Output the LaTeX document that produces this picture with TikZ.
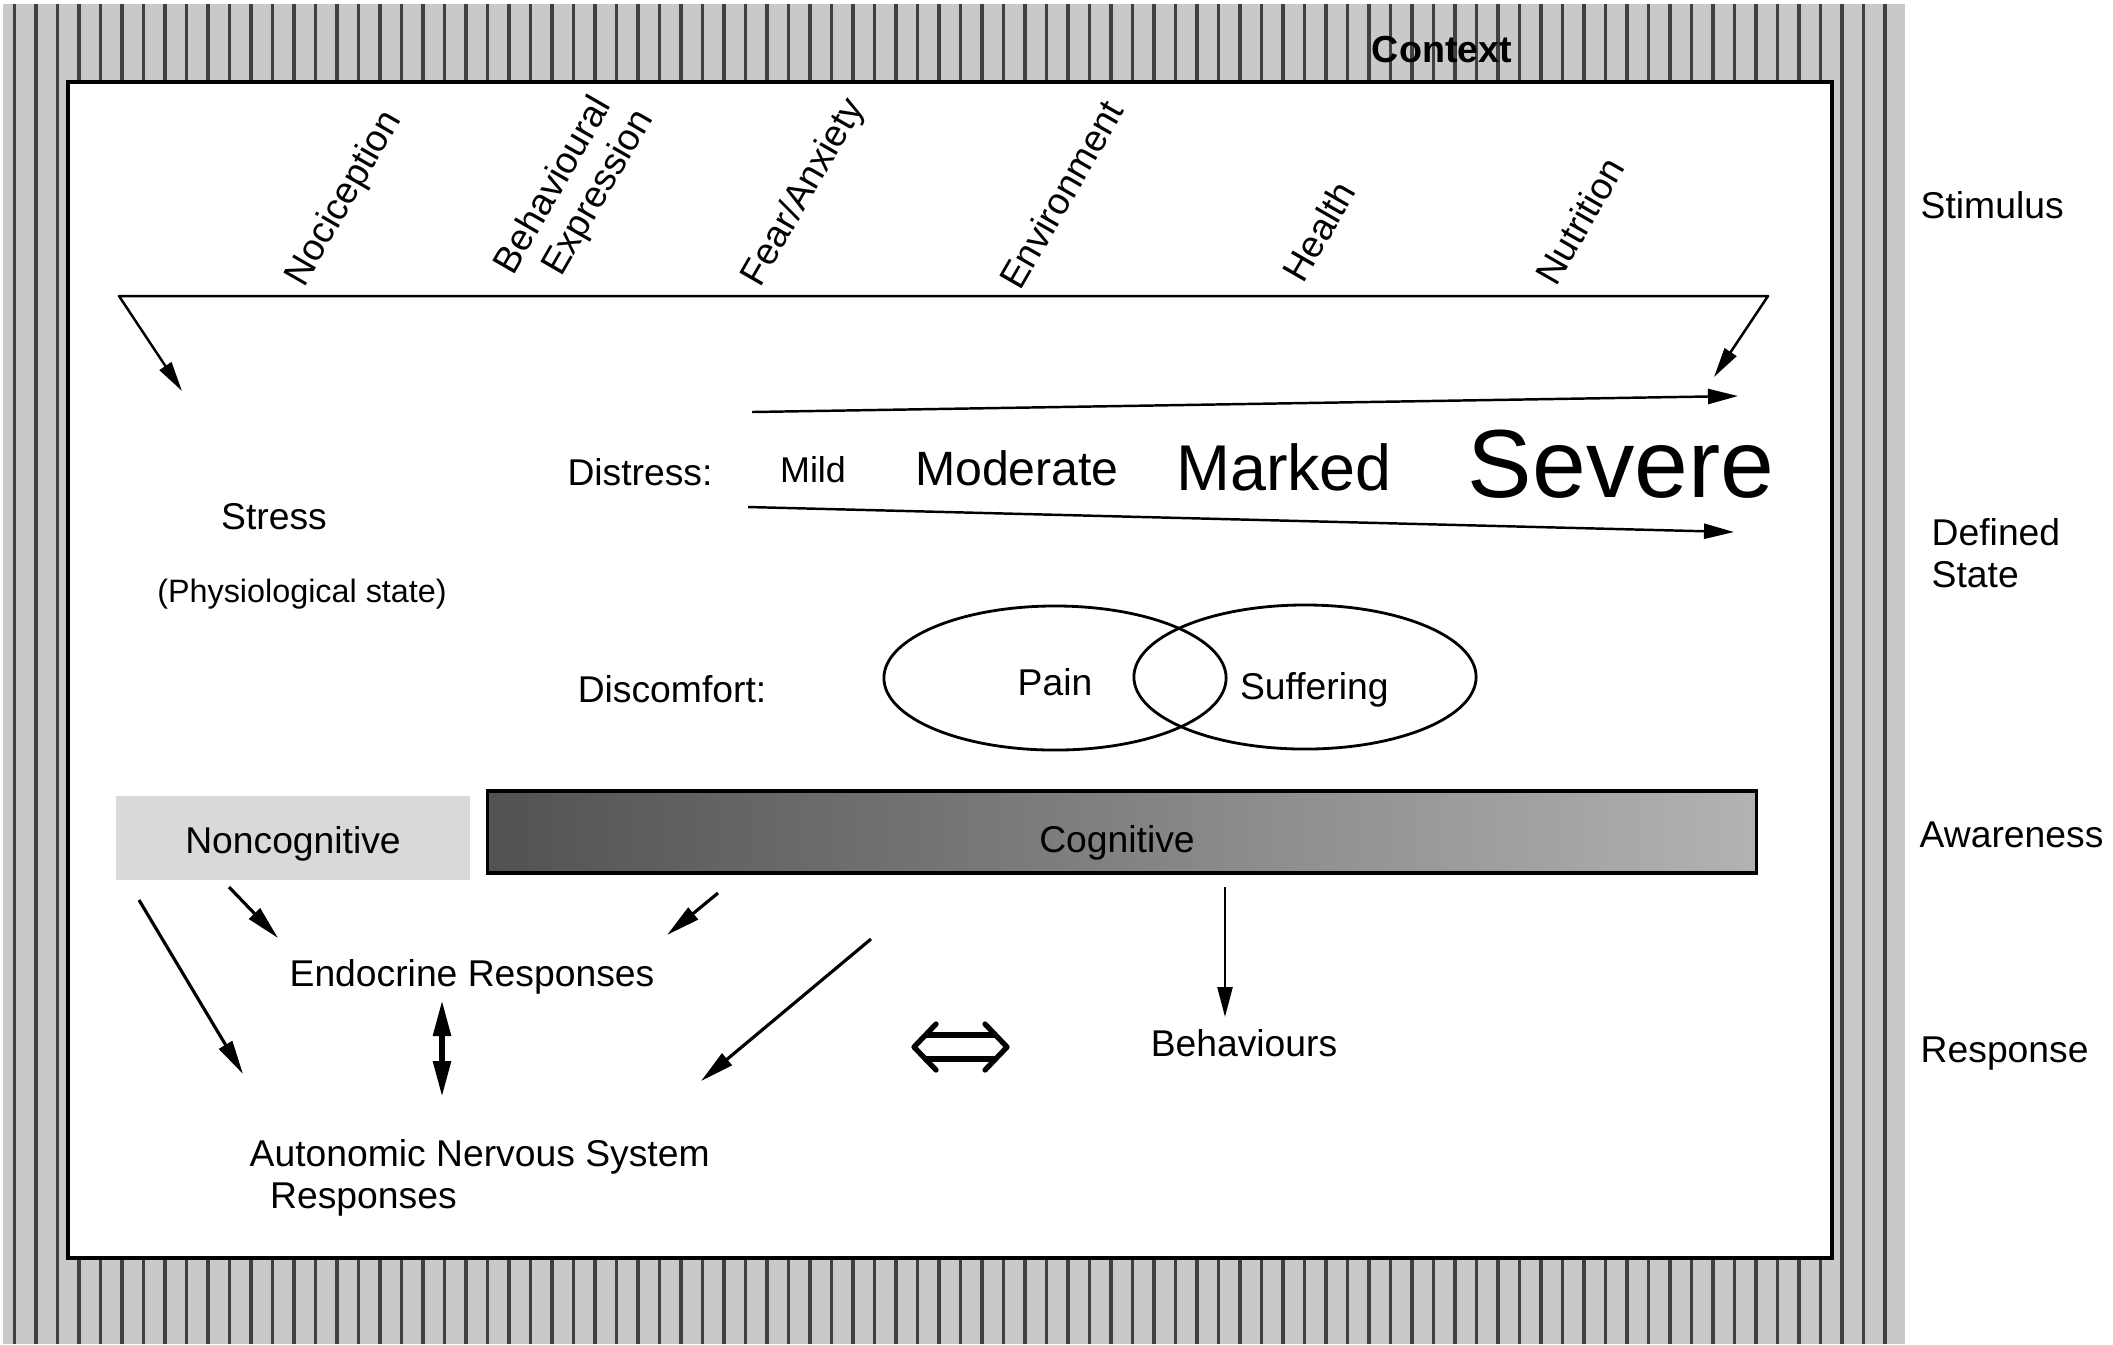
\documentclass[tikz,border=0pt]{standalone}
\usepackage{fontspec}
\setmainfont{Liberation Sans}
\usetikzlibrary{shapes.geometric, arrows.meta, calc, positioning}
\tikzstyle{arrow} = [line width=0.9pt, -{Triangle[length=3.4mm,width=1.5mm]}]
\tikzstyle{thinArrow} = [line width=0.7pt, -{Triangle[length=3mm,width=1.5mm]}]
\tikzstyle{bracketArrow} = [line width=0.7pt, line join=round, {Triangle[length=3mm,width=1.4mm]}-{Triangle[length=3mm,width=1.4mm]}]
\tikzstyle{bothArrow} = [line width=1.6pt, {Triangle[length=3.6mm,width=1.7mm]}-{Triangle[length=3.6mm,width=1.7mm]}]
\tikzstyle{eqSign} = [line width=1.5pt, line join=round, line cap=round]
\tikzstyle{plainText} = [inner sep=0pt, font=\fontsize{10.6}{12}\selectfont]
\tikzstyle{stimText} = [plainText, rotate=60, anchor=south west, align=left]
\tikzstyle{sideText} = [plainText, anchor=west, align=left]
\tikzstyle{cause} = [ellipse, draw, line width=0.8pt, minimum width=3.42cm, minimum height=1.44cm, plainText]
\tikzstyle{stripe} = [line width=1.1pt, black!75]
\newcommand{\lowered}[2]{\raisebox{-#1}[0pt][0pt]{#2}}

\begin{document}
\begin{tikzpicture}[x=0.01cm, y=-0.01cm]
    \useasboundingbox (0,0) rectangle (2113,1344);
    \fill[gray!42] (3,4) rectangle (1905,1344);
    \foreach \x in {14.5,36,...,1900}
        \draw[stripe] (\x,4) -- (\x,1344);
    \draw[line width=1.3pt, fill=white] (68,82) rectangle (1832,1258);
    \node (ctx) [plainText, font=\fontsize{10.7}{12}\bfseries] at (1442,50) {Context};

    \node (stim) [sideText] at (1920,205) {Stimulus};
    \node (state) [sideText] at (1931,553) {Defined\\State};
    \node (aware) [sideText] at (1919,835) {Awareness};
    \node (resp) [sideText] at (1920,1054) {Response};

    \node (noci) [stimText] at (311,293) {Nociception};
    \node (behav) [stimText] at (557,302) {Behavioural\\\hspace*{0.6em}Expression};
    \node (fear) [stimText] at (767,293) {Fear/Anxiety};
    \node (env) [stimText] at (1021,293) {Environment};
    \node (health) [stimText] at (1304,286) {Health};
    \node (nutri) [stimText] at (1557,289) {Nutrition};

    \coordinate (stimL) at (119,296);
    \coordinate (stimR) at (1768,296);
    \coordinate (stressTip) at (182,391);
    \coordinate (scaleTip) at (1714,377);
    \draw[bracketArrow] (stressTip) -- (stimL) -- (stimR) -- (scaleTip);

    \node (stress) [plainText] at (274,517) {Stress};
    \node (physio) [plainText, font=\fontsize{9.2}{11}\selectfont] at (302,594) {(Physiological state)};

    \coordinate (upA) at (752,412);
    \coordinate (upB) at (1738,396);
    \coordinate (lowA) at (748,507);
    \coordinate (lowB) at (1734,532);
    \draw[thinArrow] (upA) -- (upB);
    \draw[thinArrow] (lowA) -- (lowB);

    \node (distress) [plainText, anchor=base] at (640,485) {Distress:};
    \node (mild) [plainText, anchor=base, font=\fontsize{10.2}{12}\selectfont] at (813,482) {Mild};
    \node (moderate) [plainText, anchor=base, font=\fontsize{13.7}{15}\selectfont] at (1017,485) {Moderate};
    \node (marked) [plainText, anchor=base, font=\fontsize{18.4}{20}\selectfont] at (1284,490) {Marked};
    \node (severe) [plainText, anchor=base, font=\fontsize{27.5}{30}\selectfont] at (1621,497) {Severe};

    \node (discomfort) [plainText] at (672,689) {Discomfort:};
    \node (pain) [cause] at (1055,678) {\lowered{0.17cm}{Pain}};
    \node (suffer) [cause] at (1305,677) {\hspace*{0.5em}\lowered{0.22cm}{Suffering}};

    \node (noncog) [plainText, fill=black!15, minimum width=3.53cm, minimum height=0.84cm] at (293,838) {\lowered{0.15cm}{Noncognitive}};
    \node (cog) [plainText, draw, line width=0.9pt, left color=black!68, right color=black!30, minimum width=12.68cm, minimum height=0.82cm] at (1122,832) {\hspace*{-0.1cm}\lowered{0.2cm}{Cognitive}};

    \node (endo) [plainText] at (472,977) {Endocrine Responses};
    \node (ans) [plainText, align=left, anchor=west] at (249,1178) {Autonomic Nervous System\\\hspace*{0.55em}Responses};
    \node (behave) [plainText] at (1244,1043) {Behaviours};

    \coordinate (ncA) at (139,900);
    \coordinate (ansL) at (243,1074);
    \coordinate (ncB) at (229,887);
    \coordinate (endoL) at (278,938);
    \coordinate (cgA) at (718,893);
    \coordinate (endoR) at (667,935);
    \coordinate (cgB) at (871,939);
    \coordinate (ansR) at (701,1081);
    \coordinate (endoS) at (442,1000);
    \coordinate (ansN) at (442,1097);
    \coordinate (cgC) at (1225,887);
    \coordinate (behN) at (1225,1017);
    \coordinate (eqL) at (914,1047);
    \coordinate (eqR) at (1007,1047);

    \draw[arrow] (ncA) -- (ansL);
    \draw[arrow] (ncB) -- (endoL);
    \draw[arrow] (cgA) -- (endoR);
    \draw[arrow] (cgB) -- (ansR);
    \draw[bothArrow] (endoS) -- (ansN);
    \draw[thinArrow] (cgC) -- (behN);

    \draw[eqSign] ($(eqL)+(22,-23)$) -- (eqL) -- ($(eqL)+(22,23)$);
    \draw[eqSign] ($(eqR)+(-22,-23)$) -- (eqR) -- ($(eqR)+(-22,23)$);
    \draw[eqSign] ($(eqL)+(12,-12)$) -- ($(eqR)+(-12,-12)$);
    \draw[eqSign] ($(eqL)+(12,12)$) -- ($(eqR)+(-12,12)$);
\end{tikzpicture}
\end{document}
